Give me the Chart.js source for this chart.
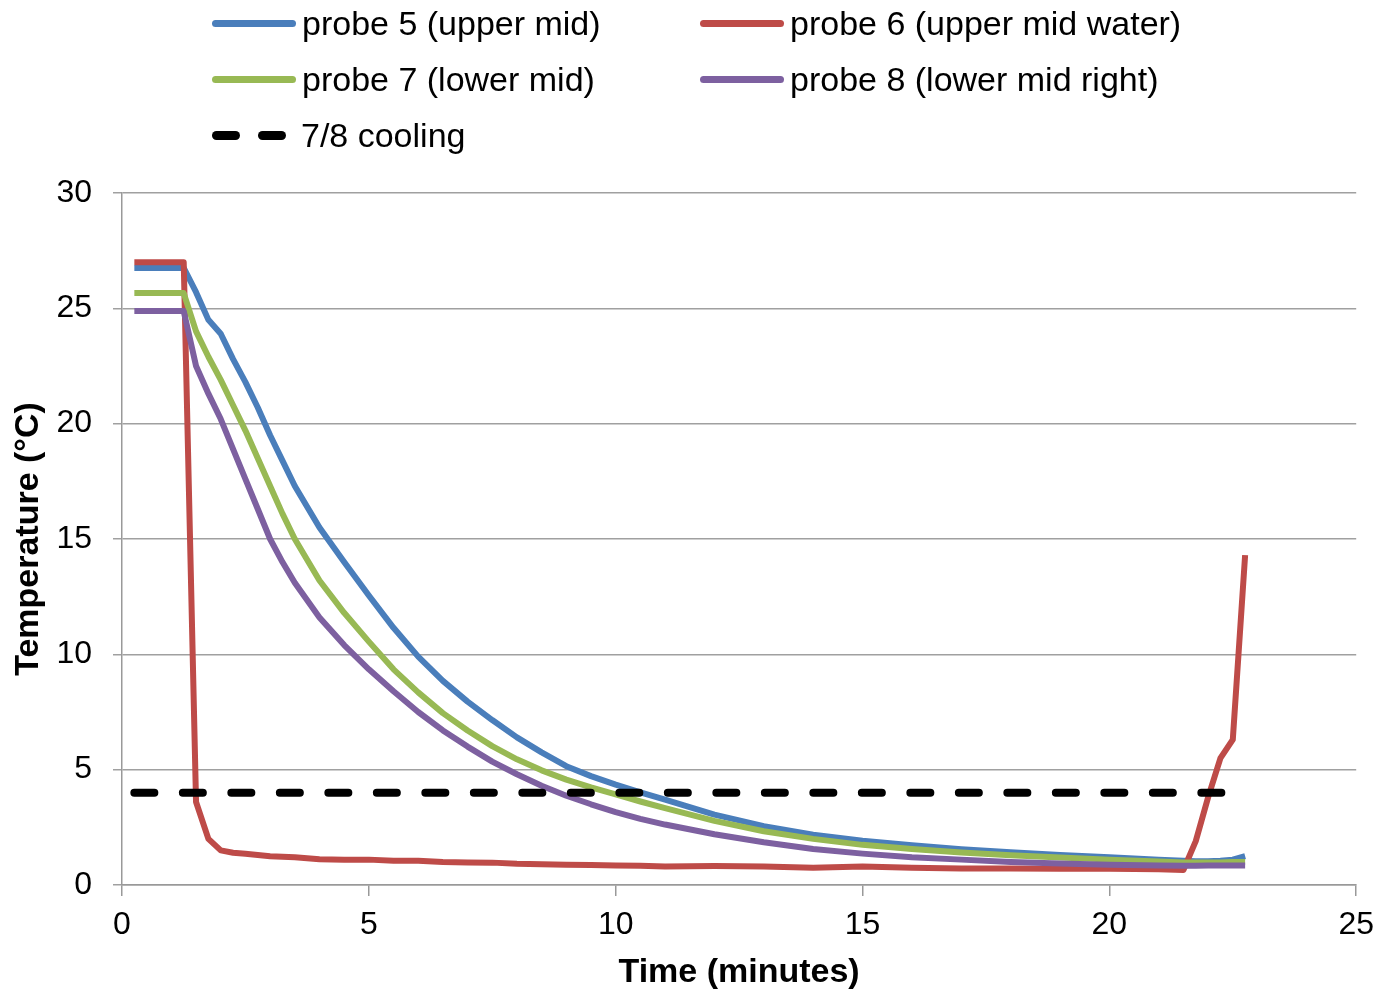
<!DOCTYPE html>
<html>
<head>
<meta charset="utf-8">
<script src="https://cdn.jsdelivr.net/npm/chart.js@4.4.1/dist/chart.umd.min.js"></script>
<style>
    body { margin: 0; background: #fff; font-family: "Liberation Sans", Arial, sans-serif; }
    #wrap { position: relative; width: 1384px; height: 994px; }
    #tempChart { position: absolute; left: 0; top: 0; }
    #legend { position: absolute; left: 0; top: 0; width: 1384px; height: 170px; }
    .item { position: absolute; display: flex; align-items: center; font-size: 34px; color: #000; white-space: nowrap; }
    .swatch { width: 84px; height: 7px; border-radius: 4px; margin-right: 6px; }
    .dash { width: 28px; height: 9px; border-radius: 5px; background: #000; }
</style>
</head>
<body>
<div id="wrap">
    <canvas id="tempChart" width="1384" height="994"></canvas>
    <div id="legend"></div>
</div>
<script>
// time in minutes
const time = [0.25, 1.25, 1.5, 1.75, 2, 2.25, 2.5, 2.75, 3, 3.25, 3.5, 4, 4.5, 5, 5.5, 6, 6.5, 7, 7.5, 8, 8.5, 9, 9.5, 10, 10.5,
    11, 12, 13, 14, 15, 16, 17, 18, 19, 20, 21, 21.5, 21.75, 22, 22.25, 22.5, 22.75];

const probe5 = [26.75, 26.75, 25.7, 24.5, 23.9, 22.8, 21.8, 20.7, 19.5, 18.4, 17.3, 15.5, 14.0, 12.55, 11.15, 9.9, 8.85, 7.95, 7.15, 6.4, 5.75, 5.15, 4.72, 4.35, 4.02,
    3.7, 3.05, 2.55, 2.18, 1.92, 1.72, 1.55, 1.42, 1.3, 1.2, 1.1, 1.05, 1.03, 1.03, 1.05, 1.1, 1.25];
const probe6 = [27.0, 27.0, 3.6, 2.0, 1.5, 1.4, 1.35, 1.3, 1.25, 1.22, 1.2, 1.12, 1.1, 1.1, 1.05, 1.05, 1.0, 0.98, 0.97, 0.92, 0.9, 0.88, 0.87, 0.85, 0.83,
    0.8, 0.82, 0.8, 0.75, 0.8, 0.75, 0.72, 0.72, 0.7, 0.7, 0.68, 0.65, 1.9, 3.8, 5.5, 6.3, 14.3];
const probe7 = [25.66, 25.66, 24.0, 22.9, 21.9, 20.8, 19.7, 18.5, 17.3, 16.1, 15.0, 13.2, 11.8, 10.55, 9.35, 8.35, 7.45, 6.7, 6.02, 5.45, 4.97, 4.57, 4.23, 3.93, 3.62,
    3.33, 2.78, 2.33, 2.0, 1.74, 1.56, 1.41, 1.29, 1.19, 1.1, 1.02, 0.98, 0.98, 0.98, 0.98, 1.0, 1.0];
const probe8 = [24.88, 24.88, 22.5, 21.3, 20.2, 18.9, 17.6, 16.3, 15.0, 14.0, 13.1, 11.6, 10.4, 9.35, 8.4, 7.5, 6.7, 6.0, 5.35, 4.8, 4.3, 3.87, 3.5, 3.16, 2.87,
    2.62, 2.2, 1.85, 1.56, 1.36, 1.2, 1.1, 1.0, 0.93, 0.88, 0.85, 0.83, 0.83, 0.84, 0.85, 0.85, 0.85];

const coolingTime = [0.25, 22.75];
const coolingTemp = [4, 4];

const xTicks = [0, 5, 10, 15, 20, 25];
const yTicks = [0, 5, 10, 15, 20, 25, 30];

const font = '"Liberation Sans", Arial, sans-serif';

function pairs(xs, ys) {
    return xs.map((x, i) => ({ x: x, y: ys[i] }));
}

const series = [
    { label: 'probe 5 (upper mid)', data: pairs(time, probe5), color: '#4a7ebb' },
    { label: 'probe 6 (upper mid water)', data: pairs(time, probe6), color: '#be4b48' },
    { label: 'probe 7 (lower mid)', data: pairs(time, probe7), color: '#98b954' },
    { label: 'probe 8 (lower mid right)', data: pairs(time, probe8), color: '#7d60a0' }
];

const datasets = series.map((s, i) => ({
    label: s.label,
    data: s.data,
    borderColor: s.color,
    backgroundColor: s.color,
    borderWidth: 6,
    pointRadius: 0,
    tension: 0,
    borderJoinStyle: 'round',
    order: 5 - i
}));

datasets.push({
    label: '7/8 cooling',
    data: pairs(coolingTime, coolingTemp),
    borderColor: '#000',
    backgroundColor: '#000',
    borderWidth: 8,
    borderDash: [20, 28.5],
    borderCapStyle: 'round',
    pointRadius: 0,
    order: 0
});

new Chart(document.getElementById('tempChart'), {
    type: 'line',
    data: { datasets: datasets },
    options: {
        responsive: false,
        animation: false,
        layout: { padding: { top: 193, right: 23, left: 0, bottom: 0 } },
        plugins: { legend: { display: false }, tooltip: { enabled: false } },
        scales: {
            x: {
                type: 'linear',
                min: 0, max: 25,
                afterBuildTicks: (scale) => { scale.ticks = xTicks.map(v => ({ value: v })); },
                afterFit: (scale) => { scale.height = 109; },
                grid: { drawOnChartArea: false, drawTicks: true, tickLength: 11, color: '#999', lineWidth: 1.5 },
                border: { color: '#999', width: 1.5 },
                ticks: { color: '#000', font: { family: font, size: 32 }, padding: 10, maxRotation: 0 },
                title: { display: true, text: 'Time (minutes)', color: '#000', font: { family: font, size: 34, weight: 'bold' }, padding: { top: 0, bottom: 1 } }
            },
            y: {
                min: 0, max: 30,
                afterBuildTicks: (scale) => { scale.ticks = yTicks.map(v => ({ value: v })); },
                afterFit: (scale) => { scale.width = 122; },
                grid: { drawTicks: true, tickLength: 9, color: '#a0a0a0', lineWidth: 1.5 },
                border: { color: '#999', width: 1.5 },
                ticks: { color: '#000', font: { family: font, size: 32 }, padding: 21 },
                title: { display: true, text: 'Temperature (°C)', color: '#000', font: { family: font, size: 34, weight: 'bold' }, padding: { top: 8, bottom: 0 } }
            }
        }
    }
});

// legend in two columns, like the original
const legendPos = [[212, 23], [700, 23], [212, 79], [700, 79], [212, 135]];
const legend = document.getElementById('legend');
datasets.forEach((ds, i) => {
    const item = document.createElement('div');
    item.className = 'item';
    item.style.left = legendPos[i][0] + 'px';
    item.style.top = (legendPos[i][1] - 20) + 'px';
    item.style.height = '40px';
    if (ds.borderDash) {
        item.innerHTML = `<div style="display:flex;gap:18px;margin-right:15px;"><div class="dash"></div><div class="dash"></div></div><span>${ds.label}</span>`;
    } else {
        item.innerHTML = `<div class="swatch" style="background:${ds.borderColor}"></div><span>${ds.label}</span>`;
    }
    legend.appendChild(item);
});
</script>
</body>
</html>
